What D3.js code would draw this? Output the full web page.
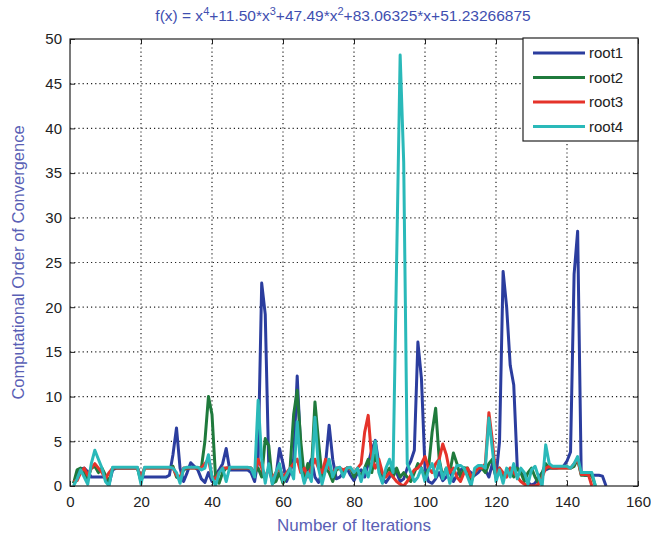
<!DOCTYPE html>
<html>
<head>
<meta charset="utf-8">
<script src="https://cdn.jsdelivr.net/npm/d3@7"></script>
<style>
  body { margin: 0; background: #fff; }
  text { font-family: "Liberation Sans", Arial, sans-serif; }
</style>
</head>
<body>
<script>
// values per iteration, starting at iteration 1
const root1 = [0.3, 1.2, 1.9, 2.0, 1.6, 1.0, 1.0, 1.0, 1.0, 1.0,
    0.2, 1.8, 2.0, 2.0, 2.0, 2.0, 2.0, 2.0, 2.0, 1.0,
    1.0, 1.0, 1.0, 1.0, 1.0, 1.0, 1.0, 1.2, 3.5, 6.5,
    2.0, 0.5, 1.5, 2.6, 2.2, 1.8, 0.8, 0.4, 1.5, 0.5,
    1.2, 1.8, 2.5, 4.2, 1.8, 1.8, 1.8, 1.8, 1.8, 1.8,
    1.5, 0.5, 3.0, 22.7, 19.2, 2.0, 0.5, 1.0, 4.2, 2.5,
    0.5, 1.5, 3.0, 12.3, 4.0, 0.5, 2.0, 3.0, 1.0, 0.4,
    1.5, 2.5, 6.8, 3.0, 0.8, 1.0, 1.5, 2.0, 1.2, 0.6,
    1.5, 1.8, 1.0, 2.5, 4.0, 5.1, 2.5, 0.8, 0.4, 1.0,
    2.0, 1.5, 0.5, 0.8, 2.0, 2.8, 4.0, 16.1, 12.0, 2.0,
    0.5, 0.3, 0.8, 1.5, 0.6, 1.0, 1.8, 0.5, 1.2, 1.8,
    2.0, 1.8, 1.5, 1.2, 1.5, 2.0, 1.8, 1.0, 2.5, 1.0,
    5.0, 24.0, 20.0, 13.5, 11.3, 2.0, 1.5, 1.0, 0.4, 0.1,
    0.3, 1.0, 1.5, 1.8, 2.0, 2.0, 2.0, 2.1, 2.2, 2.8,
    3.8, 23.7, 28.5, 1.5, 1.2, 1.2, 1.2, 1.2, 1.2, 1.1,
    0.0];

const root2 = [0.3, 1.8, 2.0, 1.5, 0.8, 2.0, 2.2, 1.5, 2.0, 1.2,
    0.5, 2.0, 2.0, 2.0, 2.0, 2.0, 2.0, 2.0, 2.0, 0.5,
    2.0, 2.0, 2.0, 2.0, 2.0, 2.0, 2.0, 2.0, 2.2, 1.0,
    0.8, 1.8, 2.0, 2.0, 2.0, 2.0, 2.0, 5.0, 10.0, 8.0,
    1.0, 0.3, 1.5, 2.0, 2.0, 2.0, 2.0, 2.0, 2.0, 2.0,
    2.0, 1.5, 2.0, 1.0, 5.3, 4.5, 0.3, 0.5, 1.5, 0.3,
    1.0, 2.0, 8.0, 10.7, 5.0, 1.0, 2.5, 1.5, 9.4, 5.0,
    1.0, 2.0, 1.5, 0.5, 1.8, 2.0, 1.5, 2.0, 2.0, 1.0,
    1.8, 1.0, 2.0, 3.0, 1.5, 3.5, 2.0, 0.5, 1.5, 2.0,
    1.0, 2.0, 1.0, 1.5, 1.0, 0.5, 1.5, 2.5, 2.0, 1.0,
    2.0, 6.0, 8.7, 3.0, 1.0, 2.0, 1.5, 3.7, 2.5, 1.0,
    2.0, 2.0, 0.5, 1.5, 2.0, 2.0, 1.5, 2.5, 3.0, 1.0,
    2.0, 0.8, 1.5, 2.0, 1.0, 2.0, 1.5, 0.5, 1.5, 2.0,
    1.0, 0.3, 1.5, 2.5, 2.0, 2.0, 2.0, 2.0, 2.0, 2.0,
    2.0, 2.2, 3.0, 1.2, 1.2, 1.2, 1.2, 0.0];

const root3 = [0.5, 0.6, 1.5, 2.0, 1.2, 2.0, 2.5, 2.0, 1.5, 0.8,
    1.5, 2.0, 2.0, 2.0, 2.0, 2.0, 2.0, 2.0, 2.0, 1.0,
    2.0, 2.0, 2.0, 2.0, 2.0, 2.0, 2.0, 2.0, 2.0, 1.2,
    1.0, 2.0, 2.0, 2.0, 2.0, 2.0, 2.0, 2.5, 3.0, 1.0,
    0.8, 1.5, 2.0, 2.0, 2.0, 2.0, 2.0, 2.0, 2.0, 2.0,
    2.0, 1.5, 3.0, 2.0, 1.0, 2.0, 0.8, 1.5, 2.0, 1.0,
    1.5, 2.0, 2.5, 3.0, 1.5, 2.0, 1.0, 2.0, 3.0, 2.0,
    1.5, 3.0, 2.0, 1.5, 2.0, 2.0, 1.8, 2.0, 2.0, 1.5,
    2.0, 2.5, 6.0, 7.9, 3.0, 2.0, 3.0, 1.5, 1.0, 1.5,
    1.0, 0.5, 0.2, 0.0, 0.5, 1.2, 1.8, 2.0, 2.5, 3.3,
    2.0, 1.5, 2.5, 3.0, 4.7, 3.5, 1.5, 2.0, 1.0, 0.5,
    1.5, 2.0, 1.0, 1.5, 2.0, 2.0, 2.5, 8.2, 5.0, 1.0,
    2.0, 1.5, 1.0, 2.0, 1.5, 1.0, 0.5, 0.2, 0.0, 0.0,
    0.0, 0.2, 1.0, 2.0, 2.2, 2.0, 2.0, 2.0, 2.0, 2.0,
    2.0, 2.5, 3.0, 1.3, 1.3, 1.3, 0.0];

const root4 = [0.0, 0.8, 1.8, 1.0, 0.2, 2.5, 4.0, 3.0, 2.0, 0.5,
    0.0, 2.1, 2.1, 2.1, 2.1, 2.1, 2.1, 2.1, 2.1, 0.2,
    2.1, 2.1, 2.1, 2.1, 2.1, 2.1, 2.1, 2.1, 2.0, 1.5,
    0.3, 2.0, 2.1, 2.1, 2.1, 2.1, 1.8, 2.0, 3.5, 1.0,
    0.0, 1.5, 2.0, 0.5, 2.1, 2.1, 2.1, 2.1, 2.1, 2.1,
    2.0, 1.0, 9.6, 3.0, 0.3, 2.5, 0.2, 1.5, 2.5, 0.5,
    1.2, 2.0, 0.8, 7.2, 2.0, 0.3, 1.5, 0.5, 7.7, 2.0,
    0.2, 1.8, 3.0, 1.0, 2.0, 2.1, 1.0, 2.0, 2.1, 1.5,
    2.0, 0.5, 2.0, 1.0, 2.5, 5.0, 1.5, 0.3, 2.0, 3.0,
    1.5, 25.0, 48.2, 36.2, 2.5, 1.5, 0.5, 1.0, 2.0, 0.5,
    1.8, 2.5, 1.0, 2.8, 0.8, 2.0, 0.3, 1.5, 2.3, 2.3,
    2.0, 1.0, 0.0, 2.0, 2.3, 2.3, 2.0, 7.6, 4.0, 0.5,
    1.8, 0.3, 2.0, 1.0, 2.5, 0.8, 2.0, 1.5, 0.2, 1.8,
    2.2, 1.0, 0.0, 4.6, 2.5, 2.2, 2.2, 2.2, 2.2, 2.2,
    2.0, 2.5, 3.3, 1.5, 1.5, 1.5, 1.5, 0.0];

const seriesNames = ["root1", "root2", "root3", "root4"];
const seriesColors = ["#2b3d9e", "#1f7a3c", "#e5332a", "#2ab9b9"];
const xTicks = [0, 20, 40, 60, 80, 100, 120, 140, 160];
const yTicks = [0, 5, 10, 15, 20, 25, 30, 35, 40, 45, 50];

let width = 651, height = 542;
let plotLeft = 70, plotRight = 638, plotTop = 39, plotBottom = 486;

var svg = d3.select("body")
            .append("svg")
            .attr("width", width)
            .attr("height", height);

svg.append("rect")
   .attr("width", width)
   .attr("height", height)
   .attr("fill", "#fff");

var xScale = d3.scaleLinear()
            .domain([0, 160])
            .range([plotLeft, plotRight]);

var yScale = d3.scaleLinear()
            .domain([0, 50])
            .range([plotBottom, plotTop]);

// dotted grid
svg.append("g")
   .selectAll("line")
   .data(xTicks.slice(1, -1))
   .enter()
   .append("line")
   .attr("x1", (d) => xScale(d))
   .attr("x2", (d) => xScale(d))
   .attr("y1", plotTop)
   .attr("y2", plotBottom)
   .style("stroke", "#222")
   .style("stroke-width", 1.2)
   .style("stroke-dasharray", "1.2,3");

svg.append("g")
   .selectAll("line")
   .data(yTicks.slice(1, -1))
   .enter()
   .append("line")
   .attr("x1", plotLeft)
   .attr("x2", plotRight)
   .attr("y1", (d) => yScale(d))
   .attr("y2", (d) => yScale(d))
   .style("stroke", "#222")
   .style("stroke-width", 1.2)
   .style("stroke-dasharray", "1.2,3");

svg.append("clipPath")
   .attr("id", "clip")
   .append("rect")
   .attr("x", plotLeft)
   .attr("y", plotTop)
   .attr("width", plotRight - plotLeft)
   .attr("height", plotBottom - plotTop);

var line = d3.line()
            .x((d, i) => xScale(i + 1))
            .y((d) => yScale(d));

let allSeries = [root1, root2, root3, root4];
for(let k = 0; k < allSeries.length; k++){
    svg.append("path")
       .attr("clip-path", "url(#clip)")
       .attr("d", line(allSeries[k]))
       .attr("fill", "none")
       .style("stroke", seriesColors[k])
       .style("stroke-width", 3)
       .style("stroke-linejoin", "round");
}

// axes, MATLAB style ticks pointing inwards on all sides
var xAxis = d3.axisBottom(xScale).tickValues(xTicks).tickSize(-5).tickPadding(10);
var yAxis = d3.axisLeft(yScale).tickValues(yTicks).tickSize(-5).tickPadding(8);

svg.append("g")
   .attr("transform", `translate(0, ${plotBottom})`)
   .call(xAxis);
svg.append("g")
   .attr("transform", `translate(${plotLeft}, 0)`)
   .call(yAxis);

svg.append("g")
   .attr("transform", `translate(0, ${plotTop})`)
   .call(d3.axisTop(xScale).tickValues(xTicks).tickSize(-5).tickFormat(""));
svg.append("g")
   .attr("transform", `translate(${plotRight}, 0)`)
   .call(d3.axisRight(yScale).tickValues(yTicks).tickSize(-5).tickFormat(""));

svg.selectAll(".domain").remove();
svg.selectAll(".tick line").style("stroke", "#222");
svg.selectAll(".tick text")
   .style("font-size", "15px")
   .style("fill", "#222")
   .style("font-family", "'Liberation Sans', Arial, sans-serif");

svg.append("rect")
   .attr("x", plotLeft)
   .attr("y", plotTop)
   .attr("width", plotRight - plotLeft)
   .attr("height", plotBottom - plotTop)
   .attr("fill", "none")
   .style("stroke", "#222")
   .style("stroke-width", 1.2);

// title with superscripts
var title = svg.append("text")
   .attr("x", 343)
   .attr("y", 21)
   .attr("text-anchor", "middle")
   .style("font-size", "15.5px")
   .style("fill", "#3f4fb0");
let parts = [["f(x) = x", false], ["4", true], ["+11.50*x", false], ["3", true],
             ["+47.49*x", false], ["2", true], ["+83.06325*x+51.23266875", false]];
for(let p of parts){
    title.append("tspan")
         .attr("dy", p[1] ? -6 : (p[0].startsWith("f") ? 0 : 6))
         .style("font-size", p[1] ? "11px" : "15.5px")
         .text(p[0]);
}

svg.append("text")
   .attr("x", (plotLeft + plotRight) / 2)
   .attr("y", 531)
   .attr("text-anchor", "middle")
   .style("font-size", "17px")
   .style("fill", "#5a5fb5")
   .text("Number of Iterations");

svg.append("text")
   .attr("transform", `translate(24, ${(plotTop + plotBottom) / 2}) rotate(-90)`)
   .attr("text-anchor", "middle")
   .style("font-size", "16.5px")
   .style("fill", "#5a5fb5")
   .text("Computational Order of Convergence");

// legend
let lx = 523, ly = 38, lw = plotRight - lx, lh = 103;
var legend = svg.append("g");
legend.append("rect")
      .attr("x", lx)
      .attr("y", ly)
      .attr("width", lw)
      .attr("height", lh)
      .attr("fill", "#fff")
      .style("stroke", "#222")
      .style("stroke-width", 1.2);

for(let k = 0; k < seriesNames.length; k++){
    let yy = 53 + k * 24.5;
    legend.append("line")
          .attr("x1", 533)
          .attr("x2", 585)
          .attr("y1", yy)
          .attr("y2", yy)
          .style("stroke", seriesColors[k])
          .style("stroke-width", 3);
    legend.append("text")
          .attr("x", 589)
          .attr("y", yy + 5)
          .style("font-size", "15px")
          .style("fill", "#222")
          .text(seriesNames[k]);
}
</script>
</body>
</html>
